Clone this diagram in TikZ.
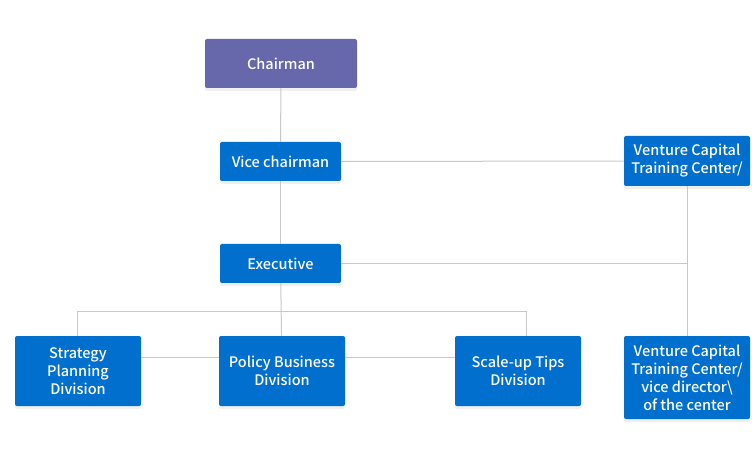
\documentclass[tikz,border=0pt]{standalone}
\usepackage{fontspec}
\setmainfont{Noto Sans CJK KR}[UprightFont=* Medium]
\usepackage{xcolor}
\usepackage{tikz}
\usetikzlibrary{positioning,shadows}
\definecolor{chairpurple}{HTML}{6767AB}
\definecolor{orgblue}{HTML}{006FCD}
\definecolor{linegray}{HTML}{C8C8C8}

\begin{document}
\begin{tikzpicture}[x=1pt, y=-1pt,
  unit/.style={fill=orgblue, text=white, rounded corners=2pt, align=center,
               inner sep=0pt, font=\fontsize{14.5}{18}\selectfont,
               drop shadow={opacity=0.12, shadow xshift=0pt, shadow yshift=-3pt}},
  chairbox/.style={unit, fill=chairpurple, minimum width=152pt, minimum height=49pt},
  smallbox/.style={unit, minimum width=121pt, minimum height=39pt},
  divbox/.style={unit, minimum width=126pt, minimum height=70pt},
  link/.style={draw=linegray, line width=1pt}
]
  \useasboundingbox (0,0) rectangle (752,454);
  \node[chairbox] (chair) at (281,63.5) {Chairman};
  \node[smallbox] (vice) at (280.5,161.5) {Vice chairman};
  \node[smallbox] (exec) at (280.5,263.5) {Executive};
  \node[unit, minimum width=126pt, minimum height=50pt] (vcc) at (687,161)
    {Venture Capital\\Training Center/};
  \node[unit, minimum width=126pt, minimum height=83pt] (vcd) at (687,377.5)
    {Venture Capital\\Training Center/\\vice director\textbackslash\\of the center};
  \node[divbox] (strat) at (78,371) {Strategy\\Planning\\Division};
  \node[divbox] (policy) at (282,371) {Policy Business\\Division};
  \node[divbox] (scale) at (518,371) {Scale-up Tips\\Division};
  \coordinate (split) at (281,311.5);
  % connectors
  \draw[link] (chair) -- (vice);
  \draw[link] (vice) -- (exec);
  \draw[link] (exec) -- (policy);
  \draw[link] (vice) -- (vcc);
  \draw[link] (vcc) -- (vcd);
  \draw[link] (exec.east) -- (exec.east -| vcc);
  \draw[link] ([xshift=-1pt]strat.north) |- (split) -| ([xshift=8pt]scale.north);
  \draw[link] ([yshift=14pt]strat.east) -- ([yshift=14pt]policy.west);
  \draw[link] ([yshift=14pt]policy.east) -- ([yshift=14pt]scale.west);
\end{tikzpicture}
\end{document}
